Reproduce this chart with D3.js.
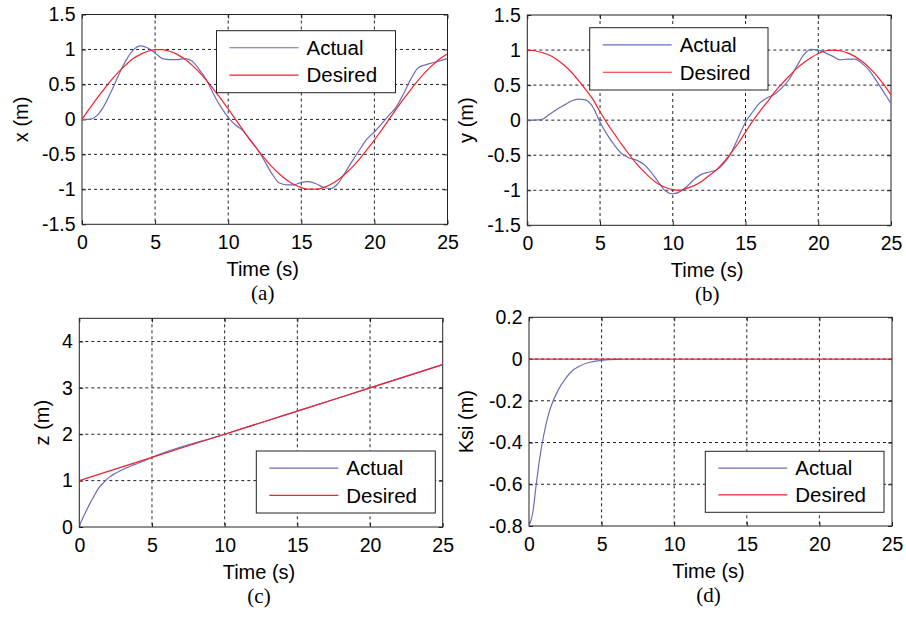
<!DOCTYPE html>
<html><head><meta charset="utf-8">
<script src="https://cdn.jsdelivr.net/npm/d3@7"></script>
<style>
html,body{margin:0;padding:0;background:#fff;}
svg{display:block;}
text{font-family:"Liberation Sans",Arial,sans-serif;fill:#000;}
.serif{font-family:"Liberation Serif","Times New Roman",serif;}
</style></head>
<body>
<script>
// ---------- data ----------
const timeXY = d3.range(0, 25.001, 0.5);
const xActual = [0,0,0.05,0.19,0.40,0.63,0.84,0.99,1.05,1.02,0.95,0.87,0.855,0.855,0.87,0.84,0.72,0.57,0.36,0.18,0.03,-0.08,-0.16,-0.29,-0.43,-0.60,-0.78,-0.91,-0.935,-0.935,-0.90,-0.89,-0.92,-0.97,-0.99,-0.92,-0.76,-0.59,-0.43,-0.28,-0.18,-0.06,0.06,0.18,0.37,0.58,0.74,0.78,0.81,0.84,0.87];
const xDesired = [0,0.15,0.295,0.43,0.56,0.68,0.78,0.87,0.93,0.975,0.997,0.997,0.975,0.93,0.866,0.78,0.68,0.56,0.43,0.295,0.15,0,-0.15,-0.295,-0.43,-0.56,-0.68,-0.78,-0.866,-0.93,-0.975,-0.997,-0.997,-0.975,-0.93,-0.866,-0.78,-0.68,-0.56,-0.43,-0.295,-0.15,0,0.15,0.295,0.43,0.56,0.68,0.78,0.87,0.94];
const yActual = [0,0,0.01,0.08,0.15,0.21,0.27,0.30,0.29,0.19,-0.03,-0.21,-0.36,-0.48,-0.54,-0.57,-0.63,-0.74,-0.88,-1.01,-1.05,-1.02,-0.94,-0.84,-0.77,-0.74,-0.71,-0.62,-0.47,-0.25,-0.03,0.12,0.25,0.32,0.37,0.46,0.58,0.76,0.93,1.01,1.0,0.96,0.91,0.86,0.87,0.87,0.81,0.71,0.56,0.40,0.24];
const yDesired = [1.0,0.99,0.965,0.93,0.87,0.79,0.69,0.57,0.44,0.30,0.12,-0.05,-0.20,-0.35,-0.49,-0.62,-0.73,-0.83,-0.91,-0.96,-0.99,-1.0,-0.97,-0.93,-0.87,-0.79,-0.71,-0.60,-0.47,-0.33,-0.17,-0.01,0.13,0.26,0.40,0.52,0.63,0.735,0.82,0.89,0.95,0.99,1.0,0.99,0.96,0.91,0.84,0.75,0.64,0.51,0.36];
const zTime = [0,0.25,0.5,0.75,1,1.25,1.5,2,2.5,3,3.5,4,4.5,5,10,15,20,25];
const zActual = [0.03,0.2,0.36,0.52,0.66,0.8,0.9,1.06,1.16,1.24,1.31,1.37,1.43,1.5,2.0,2.5,3.0,3.5];
const zDesiredTime = [0,5,10,15,20,25];
const zDesired = [1,1.5,2,2.5,3,3.5];
const ksiTime = [0,0.25,0.5,0.75,1,1.25,1.5,2,2.5,3,3.5,4,4.5,5,5.5,6.2];
const ksiActual = [-0.80,-0.74,-0.60,-0.47,-0.37,-0.29,-0.23,-0.15,-0.095,-0.055,-0.033,-0.019,-0.011,-0.006,-0.003,-0.002];
const ksiDesiredTime = [0,25];
const ksiDesired = [0,0];
const xTicks = [0,5,10,15,20,25];
const xyTicks = [-1.5,-1,-0.5,0,0.5,1,1.5];
const zTicks = [0,1,2,3,4];
const ksiTicks = [-0.8,-0.6,-0.4,-0.2,0,0.2];
const seriesNames = ["Actual","Desired"];
const panelLabels = ["(a)","(b)","(c)","(d)"];

// ---------- drawing ----------
const W = 906, H = 621;
const svg = d3.select("body").append("svg").attr("width", W).attr("height", H);
const colActual = "#6a6eb8", colDesired = "#f0222e";

function zip(t, v){ return t.map((d,i)=>[d, v[i]]); }

const panels = [
  {box:[82,447.5,14.5,224.3], ydom:[-1.5,1.5], yticks:xyTicks, ylab:"x (m)", ylabX:21,
   act:zip(timeXY,xActual), des:zip(timeXY,xDesired), leg:[216.5,395.5,30.7,92.7], lab:panelLabels[0]},
  {box:[527.3,891,15,225.3], ydom:[-1.5,1.5], yticks:xyTicks, ylab:"y (m)", ylabX:465.5,
   act:zip(timeXY,yActual), des:zip(timeXY,yDesired), leg:[589.7,768,27.7,90], lab:panelLabels[1]},
  {box:[79.3,442.7,318.3,527], ydom:[0,4.5], yticks:zTicks, ylab:"z (m)", ylabX:42,
   act:zip(zTime,zActual), des:zip(zDesiredTime,zDesired), leg:[256.3,435.3,451,513], lab:panelLabels[2]},
  {box:[529,892,317.3,526], ydom:[-0.8,0.2], yticks:ksiTicks, ylab:"Ksi (m)", ylabX:466,
   act:zip(ksiTime,ksiActual), des:zip(ksiDesiredTime,ksiDesired), leg:[705.3,884,451.3,512.3], lab:panelLabels[3]}
];

panels.forEach(p => {
  const [L,R,T,B] = p.box;
  const x = d3.scaleLinear().domain([0,25]).range([L,R]);
  const y = d3.scaleLinear().domain(p.ydom).range([B,T]);
  const g = svg.append("g");

  // grid
  g.append("g").selectAll("line").data(xTicks.filter(d=>d>0 && d<25)).join("line")
    .attr("x1",d=>x(d)).attr("x2",d=>x(d)).attr("y1",T).attr("y2",B)
    .attr("stroke","#222").attr("stroke-width",1).attr("stroke-dasharray","3,3");
  g.append("g").selectAll("line").data(p.yticks.filter(d=>d>p.ydom[0] && d<p.ydom[1])).join("line")
    .attr("x1",L).attr("x2",R).attr("y1",d=>y(d)).attr("y2",d=>y(d))
    .attr("stroke","#222").attr("stroke-width",1).attr("stroke-dasharray","3,3");

  // axes (ticks inward, labels)
  const xa = g.append("g").attr("transform",`translate(0,${B})`)
    .call(d3.axisBottom(x).tickValues(xTicks).tickSize(-4).tickPadding(11).tickFormat(d3.format("d")));
  const ya = g.append("g").attr("transform",`translate(${L},0)`)
    .call(d3.axisLeft(y).tickValues(p.yticks).tickSize(-4).tickPadding(6.5).tickFormat(d=>String(+d.toFixed(2))));
  g.append("g").attr("transform",`translate(0,${T})`)
    .call(d3.axisTop(x).tickValues(xTicks).tickSize(-4).tickFormat(""));
  g.append("g").attr("transform",`translate(${R},0)`)
    .call(d3.axisRight(y).tickValues(p.yticks).tickSize(-4).tickFormat(""));
  g.selectAll(".domain").remove();
  g.selectAll(".tick line").attr("stroke","#222");
  xa.selectAll("text").style("font-size","19.5px").attr("font-family","Liberation Sans, Arial, sans-serif");
  ya.selectAll("text").style("font-size","19.5px").attr("font-family","Liberation Sans, Arial, sans-serif");
  g.append("rect").attr("x",L).attr("y",T).attr("width",R-L).attr("height",B-T)
    .attr("fill","none").attr("stroke","#222").attr("stroke-width",1);

  // lines
  const line = d3.line().x(d=>x(d[0])).y(d=>y(d[1])).curve(d3.curveMonotoneX);
  const clipId = "clip"+p.lab.replace(/\W/g,"");
  svg.append("clipPath").attr("id",clipId).append("rect").attr("x",L).attr("y",T).attr("width",R-L).attr("height",B-T);
  const lg = g.append("g").attr("clip-path",`url(#${clipId})`);
  lg.append("path").datum(p.act).attr("d",line).attr("fill","none").attr("stroke",colActual).attr("stroke-width",1.2);
  lg.append("path").datum(p.des).attr("d",line).attr("fill","none").attr("stroke",colDesired).attr("stroke-width",1.2);

  // legend
  const [lx0,lx1,ly0,ly1] = p.leg;
  g.append("rect").attr("x",lx0).attr("y",ly0).attr("width",lx1-lx0).attr("height",ly1-ly0)
    .attr("fill","#fff").attr("stroke","#222").attr("stroke-width",1);
  const rowH = (ly1-ly0);
  const rows = [ly0+rowH*0.275, ly0+rowH*0.715];
  [colActual,colDesired].forEach((c,i)=>{
    g.append("line").attr("x1",lx0+13).attr("x2",lx0+82).attr("y1",rows[i]).attr("y2",rows[i])
      .attr("stroke",c).attr("stroke-width",1.2);
    g.append("text").attr("x",lx0+90).attr("y",rows[i]).attr("dy","0.36em")
      .style("font-size","20.5px").text(seriesNames[i]);
  });

  // axis labels
  const cx = (L+R)/2 - 2;
  g.append("text").attr("x",cx).attr("y",B+52).attr("text-anchor","middle").style("font-size","20px").text("Time (s)");
  g.append("text").attr("transform",`translate(${p.ylabX},${(T+B)/2}) rotate(-90)`)
    .attr("text-anchor","middle").attr("dy","0.35em").style("font-size","20px").text(p.ylab);
  g.append("text").attr("class","serif").attr("x",cx).attr("y",B+76).attr("text-anchor","middle")
    .style("font-size","21px").text(p.lab);
});
</script>
</body></html>
